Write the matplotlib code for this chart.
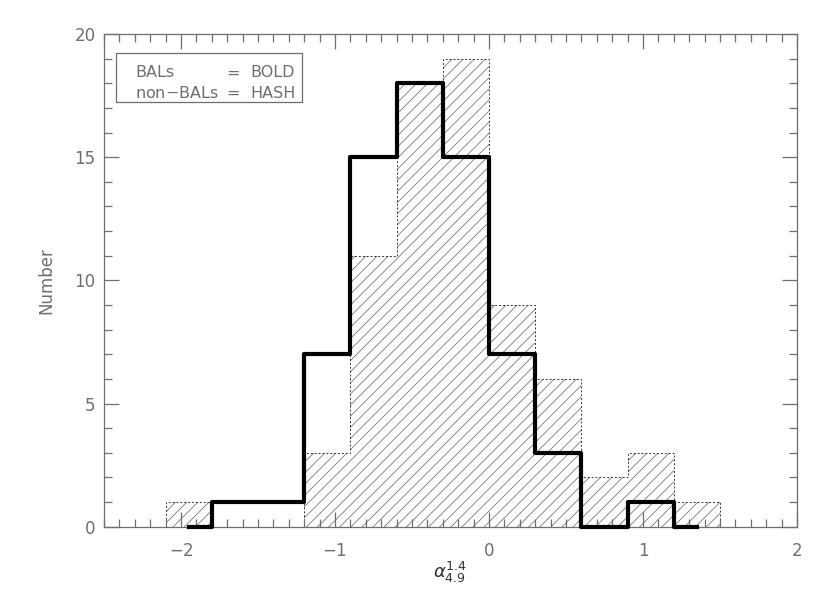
import numpy as np
import matplotlib
matplotlib.use("Agg")
import matplotlib.pyplot as plt
from matplotlib.ticker import MultipleLocator

# histogram bins shared by both samples
bin_start = -2.1
bin_width = 0.3
non_bal_counts = [1, 0, 0, 3, 11, 18, 19, 9, 6, 2, 3, 1]
bal_counts = [0, 1, 1, 7, 15, 18, 15, 7, 3, 0, 1, 0]

x_ticks = [-2, -1, 0, 1, 2]
y_ticks = [0, 5, 10, 15, 20]

nb = len(non_bal_counts)
edges = bin_start + bin_width * np.arange(nb + 1)
centers = edges[:-1] + bin_width / 2

grey = '#6e6e6e'
plt.rcParams['hatch.linewidth'] = 0.6
plt.rcParams['hatch.color'] = '#777777'

fig = plt.figure(figsize=(8.3, 5.94), dpi=100)
ax = fig.add_axes([0.1253, 0.1133, 0.8349, 0.8295])

# non-BALs: hatched, dashed outline
ax.stairs(non_bal_counts, edges, fill=True, facecolor='none',
          edgecolor='#777777', hatch='///', linewidth=0)
ax.stairs(non_bal_counts, edges, baseline=0, color='#333333',
          linewidth=0.7, linestyle=(0, (2, 2)))

# BALs: bold step, idl psym=10 style
ax.step(centers, bal_counts, where='mid', color='black', linewidth=3,
        clip_on=False, zorder=5)

ax.set_xlim(-2.5, 2)
ax.set_ylim(0, 20)
ax.set_xticks(x_ticks)
ax.set_yticks(y_ticks)
ax.xaxis.set_minor_locator(MultipleLocator(0.1))
ax.yaxis.set_minor_locator(MultipleLocator(1))
ax.tick_params(which='both', direction='in', top=True, right=True,
               color=grey, labelcolor=grey, labelsize=12)
ax.tick_params(which='major', length=11, width=0.9)
ax.tick_params(which='minor', length=5.5, width=0.9)
ax.tick_params(axis='x', pad=11)
ax.tick_params(axis='y', pad=6)
ax.set_xticklabels(['$-$2', '$-$1', '0', '1', '2'])
for s in ax.spines.values():
    s.set_color(grey)
    s.set_linewidth(0.9)

ax.set_xlabel(r'$\alpha_{4.9}^{1.4}$', fontsize=13, color='#333333',
              labelpad=0)
ax.set_ylabel('Number', fontsize=12, color=grey, labelpad=14)

# legend box
box = plt.Rectangle((0.0169, 0.862), 0.2688, 0.0994, transform=ax.transAxes,
                    facecolor='white', edgecolor=grey, linewidth=0.9,
                    zorder=6)
ax.add_patch(box)
for yy, lab, val in [(0.921, 'BALs', 'BOLD'), (0.880, 'non$-$BALs', 'HASH')]:
    ax.text(0.045, yy, lab, transform=ax.transAxes, fontsize=11.5,
            color=grey, va='center', zorder=7)
    ax.text(0.176, yy, '=', transform=ax.transAxes, fontsize=11.5,
            color=grey, va='center', zorder=7)
    ax.text(0.211, yy, val, transform=ax.transAxes, fontsize=11.5,
            color=grey, va='center', zorder=7)

fig.savefig('out.png', dpi=100)
